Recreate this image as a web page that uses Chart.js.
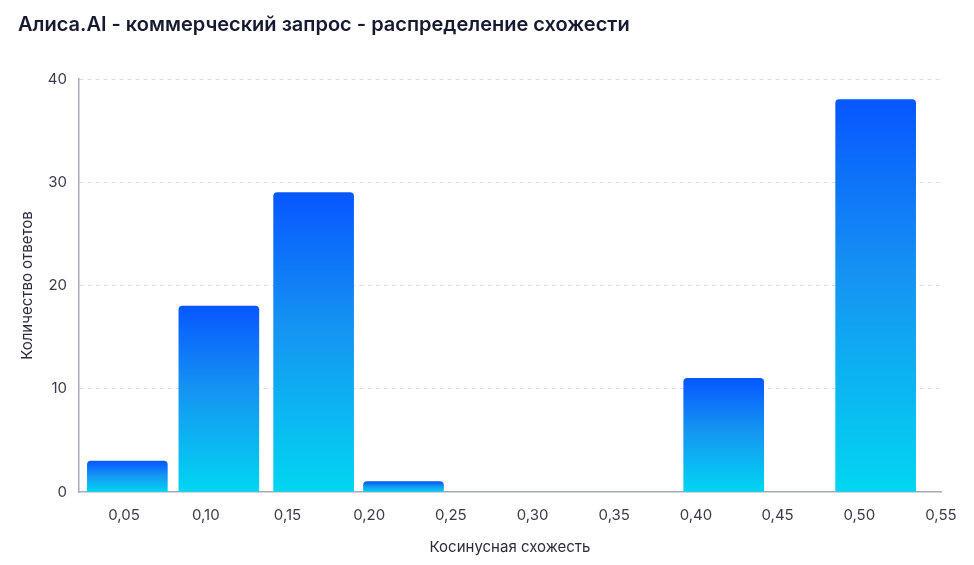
<!DOCTYPE html>
<html>
<head>
<meta charset="utf-8">
<script src="https://cdn.jsdelivr.net/npm/chart.js@4"></script>
<style>
  html, body { margin: 0; padding: 0; background: #fff; }
  #wrap { width: 974px; height: 565px; }
</style>
</head>
<body>
<div id="wrap"><canvas id="chart" width="974" height="565"></canvas></div>
<script>
// значения
const binCenters = [0.052, 0.108, 0.166, 0.221, 0.417, 0.510];
const counts = [3, 18, 29, 1, 11, 38];
const xTicks = [0.05, 0.10, 0.15, 0.20, 0.25, 0.30, 0.35, 0.40, 0.45, 0.50, 0.55];
const yTicks = [0, 10, 20, 30, 40];

const font = 'Inter, "Noto Sans", sans-serif';

// градиент для каждого столбца: синий сверху, бирюзовый снизу
function barGradient(context) {
    const chart = context.chart;
    if (!chart.chartArea || context.parsed === undefined) return '#1590f5';
    const y = chart.scales.y;
    const top = y.getPixelForValue(context.parsed.y);
    const bottom = y.getPixelForValue(0);
    const g = chart.ctx.createLinearGradient(0, top, 0, bottom);
    g.addColorStop(0, '#0757ff');
    g.addColorStop(0.45, '#1594f2');
    g.addColorStop(1, '#01d6f1');
    return g;
}

const ctx = document.getElementById('chart').getContext('2d');
new Chart(ctx, {
    type: 'bar',
    data: {
        datasets: [{
            data: binCenters.map((x, i) => ({ x: x, y: counts[i] })),
            backgroundColor: barGradient,
            borderRadius: { topLeft: 4, topRight: 4 },
            borderSkipped: false,
            barThickness: 80
        }]
    },
    options: {
        responsive: false,
        animation: false,
        layout: { padding: { left: 18, right: 33, top: 0, bottom: 9 } },
        plugins: {
            legend: { display: false },
            tooltip: { enabled: false },
            title: {
                display: true,
                text: 'Алиса.AI - коммерческий запрос - распределение схожести',
                align: 'start',
                color: '#161a30',
                font: { family: font, size: 20, weight: '600' },
                padding: { top: 13, bottom: 42 }
            }
        },
        scales: {
            x: {
                type: 'linear',
                offset: false,
                min: 0.0224,
                max: 0.55,
                afterBuildTicks: (s) => { s.ticks = xTicks.map(v => ({ value: v })); },
                grid: { display: false, drawTicks: false },
                border: { display: true, color: '#a9a9bd', width: 1.5 },
                ticks: {
                    color: '#3a3b4a',
                    font: { family: font, size: 15 },
                    padding: 14,
                    maxRotation: 0,
                    autoSkip: false,
                    callback: (v) => v.toFixed(2).replace('.', ',')
                },
                title: {
                    display: true,
                    text: 'Косинусная схожесть',
                    color: '#2a2b3d',
                    font: { family: font, size: 15 },
                    padding: { top: 0, bottom: 0 }
                }
            },
            y: {
                min: 0,
                max: 40,
                afterBuildTicks: (s) => { s.ticks = yTicks.map(v => ({ value: v })); },
                afterFit: (s) => { s.width = 61; },
                grid: {
                    color: (c) => c.tick && c.tick.value === 0 ? 'rgba(0,0,0,0)' : '#dcdcea',
                    drawTicks: false
                },
                border: { display: true, color: '#a9a9bd', width: 1.5, dash: [4, 4] },
                ticks: {
                    color: '#3a3b4a',
                    font: { family: font, size: 15 },
                    padding: 12
                },
                title: {
                    display: true,
                    text: 'Количество ответов',
                    color: '#2a2b3d',
                    font: { family: font, size: 15 },
                    padding: { top: 0, bottom: 8 }
                }
            }
        }
    }
});
</script>
</body>
</html>
